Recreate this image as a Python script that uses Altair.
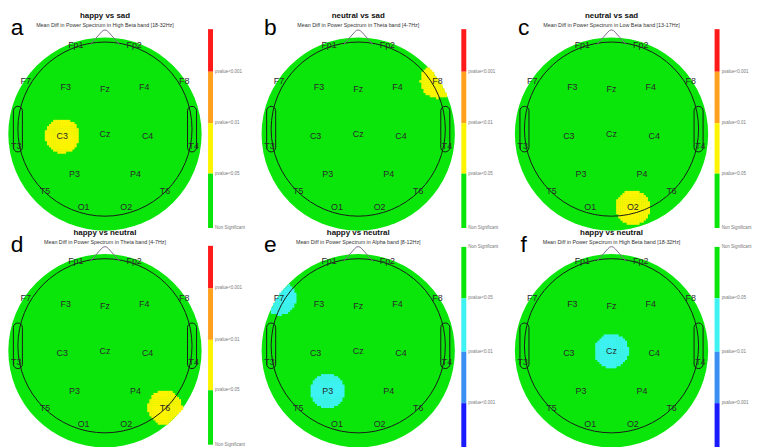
import altair as alt
import numpy as np
import pandas as pd

# ---------------- data ----------------
panel_letters = ["a", "b", "c", "d", "e", "f"]
panel_titles = ["happy vs sad", "neutral vs sad", "neutral vs sad",
                "happy vs neutral", "happy vs neutral", "happy vs neutral"]
panel_subtitles = [
    "Mean Diff in Power Spectrum in High Beta band [18-32Hz]",
    "Mean Diff in Power Spectrum in Theta band [4-7Hz]",
    "Mean Diff in Power Spectrum in Low Beta band [13-17Hz]",
    "Mean Diff in Power Spectrum in Theta band [4-7Hz]",
    "Mean Diff in Power Spectrum in Alpha band [8-12Hz]",
    "Mean Diff in Power Spectrum in High Beta band [18-32Hz]",
]
panel_sign = ["pos", "pos", "pos", "pos", "neg", "neg"]
sig_electrodes = [["C3"], ["F8"], ["O2"], ["T6"], ["P3", "F7"], ["Cz"]]
sig_levels = [["p<0.05"], ["p<0.05"], ["p<0.05"], ["p<0.05"],
              ["p<0.05", "p<0.05"], ["p<0.05"]]

electrode_names = ["Fp1", "Fp2", "F7", "F3", "Fz", "F4", "F8", "T3", "C3",
                   "Cz", "C4", "T4", "T5", "P3", "P4", "T6", "O1", "O2"]
electrode_x = [-0.335, 0.335, -0.91, -0.45, 0.0, 0.45, 0.91, -1.02, -0.49,
               0.0, 0.49, 1.02, -0.69, -0.35, 0.35, 0.69, -0.245, 0.245]
electrode_y = [0.97, 0.97, 0.55, 0.48, 0.46, 0.48, 0.55, -0.19, -0.08,
               -0.06, -0.08, -0.19, -0.71, -0.52, -0.52, -0.71, -0.90, -0.90]

levels_pos = ["p<0.001", "p<0.01", "p<0.05", "ns"]
level_text_pos = ["pvalue<0.001", "pvalue<0.01", "pvalue<0.05", "Non Significant"]
levels_neg = ["ns", "p<0.05", "p<0.01", "p<0.001"]
level_text_neg = ["Non Significant", "pvalue<0.05", "pvalue<0.01", "pvalue<0.001"]
colors_pos = ["#ff1a1a", "#ffa01e", "#fcf400", "#0ae60a"]
colors_neg = ["#0ae60a", "#3ef2f2", "#3b8ff2", "#1a1aff"]

# ---------------- layout / style ----------------
PX = 88.0                 # pixels per head-radius unit
CELL_W = [256, 256, 232]
CELL_H = 219
CX, CY = 98, 120          # head centre inside each cell (px)
DISK_CY, DISK_R = -0.057, 1.11
HEAD_R = 1.0
BLOB_R = 0.195
STEP = 0.024
BAR_X = (1.184, 1.241)
LABEL_X = 1.265
BAR_EDGES = {"pos": [1.148, 0.659, 0.068, -0.511, -1.136],
             "neg": [1.136, 0.545, -0.068, -0.659, -1.25]}
GREEN = "#0ae60a"
FONT = "Liberation Sans"
NOSE_PATH = "M-1,0.05 L-0.25,-0.8 Q0,-1.1 0.25,-0.8 L1,0.05"
EAR_PATH = ("M-0.19,-0.77 A0.19,0.19 0 0 1 0.19,-0.77 L0.19,0.77 "
            "A0.19,0.19 0 0 1 -0.19,0.77 Z")

epos = {n: (x, y) for n, x, y in zip(electrode_names, electrode_x, electrode_y)}


def panel(i):
    W = CELL_W[i % 3]
    xs = alt.Scale(domain=[-CX / PX, (W - CX) / PX], nice=False, zero=False)
    ys = alt.Scale(domain=[(CY - CELL_H) / PX, CY / PX], nice=False, zero=False)

    def enc(xf="x", yf="y"):
        return dict(x=alt.X(f"{xf}:Q", scale=xs, axis=None),
                    y=alt.Y(f"{yf}:Q", scale=ys, axis=None))

    sign = panel_sign[i]
    levels = levels_pos if sign == "pos" else levels_neg
    texts = level_text_pos if sign == "pos" else level_text_neg
    cols = colors_pos if sign == "pos" else colors_neg
    cscale = alt.Scale(domain=levels, range=cols)

    def one(**kw):
        return pd.DataFrame({k: [v] for k, v in kw.items()})

    disk = alt.Chart(one(x=0.0, y=DISK_CY)).mark_circle(
        size=(2 * DISK_R * PX) ** 2, color=GREEN, opacity=1).encode(**enc())

    # significance blobs sampled on a grid, kept inside the coloured disk
    g = np.arange(-1.3, 1.3 + 1e-9, STEP)
    gx, gy = np.meshgrid(g, g)
    frames = []
    for name, lvl in zip(sig_electrodes[i], sig_levels[i]):
        ex, ey = epos[name]
        m = (((gx - ex) ** 2 + (gy - ey) ** 2 <= BLOB_R ** 2)
             & (gx ** 2 + (gy - DISK_CY) ** 2 <= DISK_R ** 2))
        frames.append(pd.DataFrame({"x": gx[m], "y": gy[m], "level": lvl}))
    blob_df = pd.concat(frames, ignore_index=True)
    blobs = alt.Chart(blob_df).mark_square(
        size=(STEP * PX * 1.2) ** 2, opacity=1, strokeWidth=0).encode(
        **enc(), color=alt.Color("level:N", scale=cscale, legend=None))

    outline = alt.Chart(one(x=0.0, y=0.0)).mark_point(
        shape="circle", size=(2 * HEAD_R * PX) ** 2, filled=False,
        color="#1a1a1a", strokeWidth=1, opacity=1).encode(**enc())
    nose = alt.Chart(one(x=0.0, y=0.977)).mark_point(
        shape=NOSE_PATH, size=900, filled=False, color="#7d6d8c",
        strokeWidth=1, opacity=1).encode(**enc())
    ears = alt.Chart(pd.DataFrame({"x": [-HEAD_R, HEAD_R], "y": [0.0, 0.0]})).mark_point(
        shape=EAR_PATH, size=48 ** 2, filled=False, color="#1a1a1a",
        strokeWidth=1, opacity=1).encode(**enc())

    el_df = pd.DataFrame({"name": electrode_names, "x": electrode_x, "y": electrode_y})
    labels = alt.Chart(el_df).mark_text(
        fontSize=9, font=FONT, color="#2a2a2a", align="center",
        baseline="middle").encode(**enc(), text="name:N")

    edges = BAR_EDGES[sign]
    bar_df = pd.DataFrame({"level": levels, "y": edges[:-1], "y2": edges[1:],
                           "x": [BAR_X[0]] * 4, "x2": [BAR_X[1]] * 4})
    bar = alt.Chart(bar_df).mark_rect(opacity=1, strokeWidth=0).encode(
        x=alt.X("x:Q", scale=xs, axis=None), x2="x2:Q",
        y=alt.Y("y:Q", scale=ys, axis=None), y2="y2:Q",
        color=alt.Color("level:N", scale=cscale, legend=None))
    lab_y = edges[1:] if sign == "pos" else edges[:-1]
    bar_lab_df = pd.DataFrame({"t": texts, "y": lab_y, "x": [LABEL_X] * 4})
    bar_labels = alt.Chart(bar_lab_df).mark_text(
        fontSize=4.5, font=FONT, color="#777777", align="left",
        baseline="middle").encode(**enc(), text="t:N")

    title = alt.Chart(one(x=0.0, y=1.295, t=panel_titles[i])).mark_text(
        fontSize=8, font=FONT, fontWeight="bold", color="#111111",
        align="center", baseline="middle").encode(**enc(), text="t:N")
    subtitle = alt.Chart(one(x=0.0, y=1.19, t=panel_subtitles[i])).mark_text(
        fontSize=5.4, font=FONT, color="#333333", align="center",
        baseline="middle").encode(**enc(), text="t:N")
    letter = alt.Chart(one(x=-1.01, y=1.16, t=panel_letters[i])).mark_text(
        fontSize=23, font=FONT, color="#000000", align="center",
        baseline="middle").encode(**enc(), text="t:N")

    return alt.layer(disk, blobs, outline, nose, ears, labels, bar, bar_labels,
                     title, subtitle, letter).properties(width=W, height=CELL_H)


panels = [panel(i) for i in range(6)]
chart = alt.concat(*panels, columns=3, spacing=0, bounds="flush", padding=0).resolve_scale(
    x="independent", y="independent", color="independent"
).configure_view(strokeWidth=0)

chart.save("out.html", embed_options={"renderer": "svg", "actions": False})
